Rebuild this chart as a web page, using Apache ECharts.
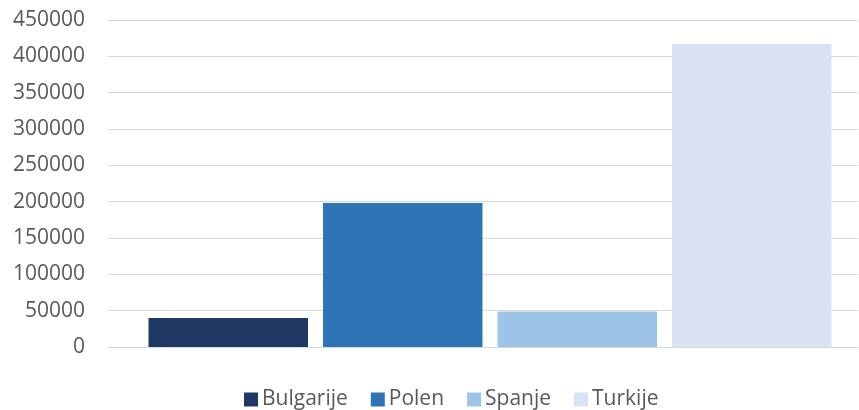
<!DOCTYPE html>
<html>
<head>
<meta charset="utf-8">
<script src="https://cdn.jsdelivr.net/npm/echarts@6/dist/echarts.min.js"></script>
<style>
  html, body { margin: 0; padding: 0; background: #fff; }
  #chart { width: 859px; height: 410px; }
</style>
</head>
<body>
<div id="chart"></div>
<script>
var countries = ["Bulgarije", "Polen", "Spanje", "Turkije"];
var values = [40000, 198000, 49000, 417000];
var colors = ["#1F3864", "#2E75B6", "#9DC3E6", "#DAE3F3"];

var chart = echarts.init(document.getElementById("chart"));

// grid 0: as + rasterlijnen, grid 1: staven (iets naar rechts geschoven zoals in Excel)
var series = countries.map(function (name, i) {
  return {
    name: name,
    type: "bar",
    xAxisIndex: 1,
    yAxisIndex: 1,
    data: [values[i]],
    barWidth: 159.5,
    barGap: "9.4%",
    itemStyle: { color: colors[i] },
    animation: false
  };
});

var option = {
  color: colors,
  grid: [
    { left: 108, right: 1, top: 20, bottom: 63 },
    { left: 121, right: 0, top: 20, bottom: 63 }
  ],
  xAxis: [
    {
      type: "category",
      gridIndex: 0,
      data: [""],
      axisLine: { show: true, lineStyle: { color: "#d9d9d9", width: 1 } },
      axisTick: { show: false },
      axisLabel: { show: false }
    },
    {
      type: "category",
      gridIndex: 1,
      data: [""],
      show: false
    }
  ],
  yAxis: [
    {
      type: "value",
      gridIndex: 0,
      min: 0,
      max: 450000,
      interval: 50000,
      axisLine: { show: false },
      axisTick: { show: false },
      axisLabel: {
        margin: 23,
        color: "#595959",
        fontSize: 21,
        fontFamily: "Open Sans",
        formatter: function (v) { return String(v); }
      },
      splitLine: { lineStyle: { color: "#d9d9d9", width: 1 } }
    },
    {
      type: "value",
      gridIndex: 1,
      min: 0,
      max: 450000,
      interval: 50000,
      show: false
    }
  ],
  legend: {
    data: countries,
    left: 239,
    top: 384,
    icon: "rect",
    itemWidth: 14,
    itemHeight: 14,
    itemGap: 23,
    textStyle: { color: "#595959", fontSize: 21, fontFamily: "Open Sans", padding: [0, 0, 0, -1] }
  },
  series: series
};

chart.setOption(option);
</script>
</body>
</html>
